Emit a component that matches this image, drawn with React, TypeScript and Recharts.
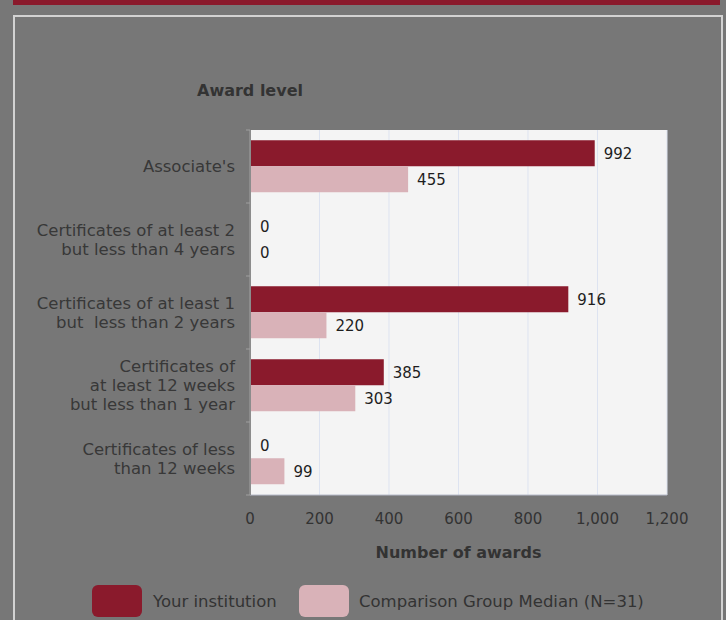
import { BarChart, Bar, XAxis, YAxis, CartesianGrid, LabelList } from 'recharts'

// Completions by award level
const categories = [
    "Associate's",
    'Certificates of at least 2\nbut less than 4 years',
    'Certificates of at least 1\nbut  less than 2 years',
    'Certificates of\nat least 12 weeks\nbut less than 1 year',
    'Certificates of less\nthan 12 weeks',
]
const yourInstitution = [992, 0, 916, 385, 0]
const comparisonMedian = [455, 0, 220, 303, 99]
const xTicks = [0, 200, 400, 600, 800, 1000, 1200]

const data = categories.map((level, i) => ({
    level,
    yours: yourInstitution[i],
    median: comparisonMedian[i],
}))

const FONT = '"DejaVu Sans", Verdana, sans-serif'
const DARK = '#8a1a2c'
const PINK = '#d9b2b8'

function LevelTick(props: any) {
    const { x, y, payload, index } = props
    const lines = String(payload.value).split('\n')
    const lh = 19
    const half = payload.offset || 36.5
    const top = y - ((lines.length - 1) * lh) / 2
    return (
        <g>
            <line x1={x + 11} x2={x + 15} y1={y - half} y2={y - half} stroke="#a0a0a0" />
            {index === categories.length - 1 && (
                <line x1={x + 11} x2={x + 15} y1={y + half} y2={y + half} stroke="#a0a0a0" />
            )}
            <text x={x} y={top} textAnchor="end" fontSize={16.5} fill="#383838" fontFamily={FONT}>
                {lines.map((l, i) => (
                    <tspan key={i} x={x} y={top + i * lh} dy="0.35em" style={{ whiteSpace: 'pre' }}>
                        {l}
                    </tspan>
                ))}
            </text>
        </g>
    )
}

export default function App() {
    return (
        <div
            style={{
                position: 'absolute',
                left: 0,
                top: 0,
                width: 726,
                height: 620,
                background: '#777777',
                overflow: 'hidden',
                fontFamily: FONT,
            }}
        >
            <div style={{ position: 'absolute', left: 13, top: 0, width: 707, height: 5, background: DARK }} />
            <div
                style={{
                    position: 'absolute',
                    left: 13,
                    top: 15,
                    width: 706,
                    height: 640,
                    border: '2px solid #d2d2d2',
                }}
            />
            <div
                style={{
                    position: 'absolute',
                    left: 150,
                    top: 81,
                    width: 200,
                    textAlign: 'center',
                    fontSize: 16,
                    fontWeight: 'bold',
                    color: '#333',
                }}
            >
                Award level
            </div>
            <div style={{ position: 'absolute', left: 0, top: 0 }}>
                <BarChart
                    width={726}
                    height={620}
                    data={data}
                    layout="vertical"
                    margin={{ top: 130, right: 59, bottom: 95, left: 10 }}
                    barCategoryGap="14%"
                    barGap={0}
                >
                    <CartesianGrid horizontal={false} fill="#f4f4f4" stroke="#dde3f0" />
                    <XAxis
                        type="number"
                        domain={[0, 1200]}
                        ticks={xTicks}
                        height={30}
                        axisLine={{ stroke: '#b8bccb' }}
                        tickLine={false}
                        tickSize={0}
                        tickMargin={18}
                        tickFormatter={(v: number) => v.toLocaleString('en-US')}
                        tick={{ fontSize: 15, fill: '#333', fontFamily: FONT }}
                    />
                    <YAxis
                        type="category"
                        dataKey="level"
                        width={240}
                        axisLine={{ stroke: '#8c8c8c', strokeWidth: 2 }}
                        tickLine={false}
                        tickSize={0}
                        tickMargin={15}
                        tick={<LevelTick />}
                    />
                    <Bar dataKey="yours" fill={DARK} minPointSize={1} isAnimationActive={false}>
                        <LabelList dataKey="yours" position="right" offset={9} fontSize={15} fill="#1e1e1e" fontFamily={FONT} />
                    </Bar>
                    <Bar dataKey="median" fill={PINK} minPointSize={1} isAnimationActive={false}>
                        <LabelList dataKey="median" position="right" offset={9} fontSize={15} fill="#1e1e1e" fontFamily={FONT} />
                    </Bar>
                </BarChart>
            </div>
            <div
                style={{
                    position: 'absolute',
                    left: 250,
                    top: 543,
                    width: 417,
                    textAlign: 'center',
                    fontSize: 16,
                    fontWeight: 'bold',
                    color: '#333',
                }}
            >
                Number of awards
            </div>
            <div style={{ position: 'absolute', left: 92, top: 585, display: 'flex', alignItems: 'center', fontSize: 16.5, color: '#333' }}>
                <span style={{ width: 50, height: 32, borderRadius: 6, background: DARK, marginRight: 11 }} />
                <span style={{ width: 146 }}>Your institution</span>
                <span style={{ width: 50, height: 32, borderRadius: 6, background: PINK, marginRight: 10 }} />
                <span>Comparison Group Median (N=31)</span>
            </div>
        </div>
    )
}
